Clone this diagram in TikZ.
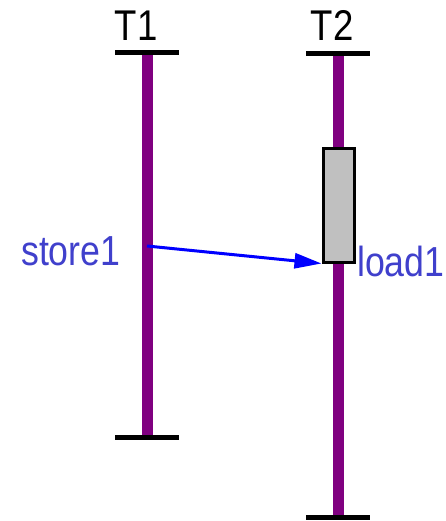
\documentclass[tikz,border=0pt]{standalone}
\usepackage{fontspec}
\setmainfont{Liberation Sans}[FakeStretch=0.85]
\usetikzlibrary{arrows.meta}
\definecolor{lifeline}{RGB}{128,0,128}
\definecolor{lbl}{RGB}{64,64,204}
\definecolor{boxgray}{RGB}{192,192,192}
\tikzset{
  lifel/.style={draw=lifeline,line width=11pt},
  capbar/.style={draw=black,line width=5pt},
  thread/.style={font=\fontsize{43}{45}\selectfont,text=black,inner sep=0pt,anchor=base},
  evlabel/.style={font=\fontsize{42}{44}\selectfont,text=lbl,inner sep=0pt},
  actbox/.style={draw=black,fill=boxgray,line width=3pt,minimum width=31pt,minimum height=113pt,inner sep=0pt},
  msg/.style={draw=blue,line width=3pt,-{Triangle[length=27pt,width=15pt]}}
}
\begin{document}
\begin{tikzpicture}[x=1pt,y=-1pt]
\useasboundingbox (0,0) rectangle (445,521);
% T1
\coordinate (t1top) at (147,53);
\coordinate (t1bot) at (147,437);
\draw[lifel] (t1top) -- (t1bot);
\draw[capbar] ([xshift=-32pt]t1top) -- ([xshift=32pt]t1top);
\draw[capbar] ([xshift=-32pt]t1bot) -- ([xshift=32pt]t1bot);
\node[thread] (T1) at (136,41) {T1};
% T2
\coordinate (t2top) at (338,54);
\coordinate (t2bot) at (338,517);
\draw[lifel] (t2top) -- (t2bot);
\draw[capbar] ([xshift=-32pt]t2top) -- ([xshift=32pt]t2top);
\draw[capbar] ([xshift=-32pt]t2bot) -- ([xshift=32pt]t2bot);
\node[thread] (T2) at (332,41) {T2};
% activity box
\node[actbox] (act) at (338.5,205.5) {};
% message
\coordinate (st) at (147,246);
\draw[msg] (st) -- (act.south west);
\node[evlabel,anchor=base west] (store) at (21,265) {store1};
\node[evlabel,anchor=base west] (load) at (357,276) {load1};
\end{tikzpicture}
\end{document}
